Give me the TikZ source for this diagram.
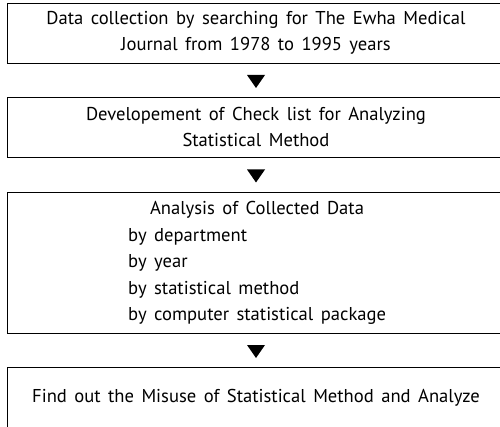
\documentclass[tikz,border=0pt]{standalone}
\usepackage{fontspec}
\setmainfont{PT Sans}[WordSpace=1.5]
\usetikzlibrary{calc}
\begin{document}
\begin{tikzpicture}[x=1pt,y=-1pt,
  box/.style={draw=black,line width=0.8pt,minimum width=498pt,inner sep=0pt,align=center},
  txt/.style={font=\fontsize{18.6}{25.5}\selectfont,inner sep=0pt},
  tri/.style={fill=black}]
\useasboundingbox (0,0) rectangle (500,427);
\clip (0,0) rectangle (500,427);
\node[box,minimum height=60pt,txt] (b1) at (256,33) {Data collection by searching for The Ewha Medical\\Journal from 1978 to 1995 years};
\node[box,minimum height=60pt,txt] (b2) at (256,127) {Developement of Check list for Analyzing\\Statistical Method};
\node[box,minimum height=141pt] (b3) at (256,262.5) {};
\node[txt] (t3) at (257,210) {Analysis of Collected Data};
\node[txt,anchor=west,align=left,font=\fontsize{18.6}{26.5}\selectfont] (l3) at (128,276.5) {by department\\by year\\by statistical method\\by computer statistical package};
\node[box,minimum height=62pt,txt] (b4) at (256,398) {Find out the Misuse of Statistical Method and Analyze};
\foreach \a/\b/\n in {b1/b2/a1,b2/b3/a2,b3/b4/a3}{
  \coordinate (\n) at ($(\a.south)!0.5!(\b.north)+(0,1.5)$);
  \fill[tri] (\n)+(-9,-6.5) -- +(9,-6.5) -- +(0,6.5) -- cycle;
}
\end{tikzpicture}
\end{document}
